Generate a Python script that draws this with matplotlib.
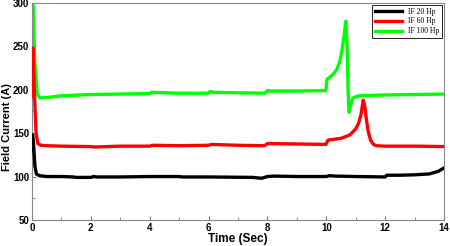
import matplotlib
matplotlib.use("Agg")
import matplotlib.pyplot as plt
from matplotlib.ticker import MultipleLocator

# IF 20 Hp (black)
t_20 = [0.0, 0.02, 0.05, 0.1, 0.15, 0.25, 0.5, 1.0, 1.4, 1.5, 2.0, 2.1, 2.2, 3.0, 4.0,
        5.0, 5.1, 6.0, 7.5, 7.8, 8.0, 8.2, 9.0, 10.0, 10.1, 10.3, 11.0, 12.0, 12.05,
        12.5, 13.0, 13.5, 13.8, 14.0]
i_20 = [130, 148, 140, 112, 103, 101, 100, 100, 99.5, 99, 99, 100, 99.5, 99.5, 100,
        100, 99.5, 99.5, 99, 98, 100, 100.5, 100, 100, 101, 100.5, 100, 99.5, 101.5,
        101.5, 102, 103, 106, 110]

# IF 60 Hp (red)
t_60 = [0.0, 0.02, 0.04, 0.08, 0.14, 0.2, 0.3, 0.5, 1.0, 2.0, 2.1, 3.0, 4.0, 4.1,
        5.0, 6.0, 6.1, 7.0, 7.9, 8.0, 9.0, 9.98, 10.06, 10.5, 10.8, 11.0, 11.1,
        11.18, 11.25, 11.3, 11.35, 11.42, 11.5, 11.6, 11.7, 12.0, 13.0, 14.0]
i_60 = [192, 230, 248, 200, 150, 138, 136, 135.5, 135, 134.5, 134, 135, 135, 136,
        135.5, 136, 137, 136, 135.5, 138, 137.5, 137, 142, 144, 148, 155, 162,
        172, 188, 182, 168, 152, 142, 137, 135.5, 135, 135, 134.5]

# IF 100 Hp (green)
t_100 = [0.0, 0.02, 0.04, 0.06, 0.1, 0.18, 0.27, 0.5, 1.0, 2.0, 3.0, 4.0, 4.05,
         5.0, 6.0, 6.05, 6.15, 7.0, 7.9, 8.0, 8.1, 9.0, 9.98, 10.02, 10.1, 10.2,
         10.35, 10.45, 10.52, 10.6, 10.66, 10.7, 10.74, 10.77, 10.82, 10.9, 11.1,
         12.0, 13.0, 14.0]
i_100 = [192, 300, 295, 270, 230, 195, 190.5, 191, 193, 194.5, 195, 195.5, 197,
         196, 196, 198, 197, 196.5, 196, 199, 198.5, 198.5, 199, 212, 214, 217,
         223, 232, 243, 262, 279, 255, 196, 174, 182, 190.5, 193,
         194, 194.5, 195]

fig, ax = plt.subplots(figsize=(4.5, 2.46), dpi=100)
fig.subplots_adjust(left=0.071, right=0.987, top=0.988, bottom=0.106)

lw = 2.4
ax.plot(t_20, i_20, color="#000000", lw=lw, label="IF 20 Hp", zorder=4)
ax.plot(t_60, i_60, color="#ff0000", lw=lw, label="IF 60 Hp", zorder=3)
ax.plot(t_100, i_100, color="#00ff00", lw=lw, label="IF 100 Hp", zorder=2)

ax.set_xlim(0, 14)
ax.set_ylim(50, 300)
ax.xaxis.set_major_locator(MultipleLocator(2))
ax.xaxis.set_minor_locator(MultipleLocator(1))
ax.yaxis.set_major_locator(MultipleLocator(50))
ax.yaxis.set_minor_locator(MultipleLocator(25))
ax.tick_params(which="both", direction="in", color="#777777")
ax.tick_params(which="major", length=3, width=0.8, pad=2)
ax.tick_params(which="minor", length=2, width=0.6)
for s in ax.spines.values():
    s.set_color("#888888")
    s.set_linewidth(0.8)

for lab in ax.get_xticklabels() + ax.get_yticklabels():
    lab.set_fontfamily("Liberation Sans")
    lab.set_fontweight("bold")
    lab.set_fontsize(7)

ax.set_xlabel("Time (Sec)", fontfamily="Liberation Sans", fontweight="bold",
              fontsize=8.5, labelpad=0)
ax.set_ylabel("Field Current (A)", fontfamily="Liberation Sans", fontweight="bold",
              fontsize=8)
ax.yaxis.set_label_coords(-0.049, 0.43)

leg = ax.legend(loc="upper right", prop={"family": "Liberation Serif", "size": 5.5},
                frameon=True, fancybox=False, edgecolor="#000000", framealpha=1,
                handlelength=3.6, handletextpad=0.8, borderpad=0.35,
                labelspacing=0.25, borderaxespad=0.25)
leg.get_frame().set_linewidth(0.6)

fig.savefig("out.png", dpi=100)
